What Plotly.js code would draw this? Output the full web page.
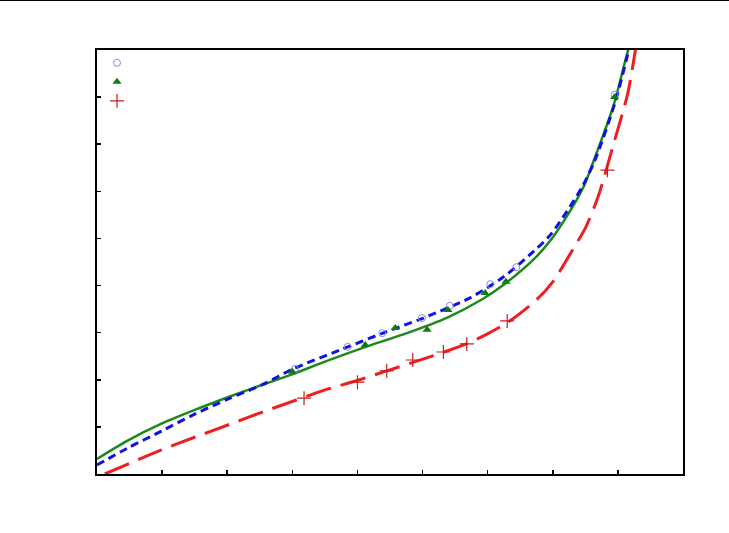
<!DOCTYPE html>
<html>
<head>
<meta charset="utf-8">
<script src="https://cdn.plot.ly/plotly-3.0.1.min.js"></script>
<style>
html,body{margin:0;padding:0;background:#fff;}
#topline{position:absolute;left:0;top:0;width:729px;height:1px;background:#000;z-index:10;}
#chart{width:729px;height:533px;}
</style>
</head>
<body>
<div id="topline"></div>
<div id="chart"></div>
<script>
// Measured points
const circleX = [3.04, 3.85, 4.38, 4.99, 5.42, 6.04, 6.44, 7.95];
const circleY = [2.23, 2.70, 2.99, 3.31, 3.57, 4.03, 4.39, 8.05];
const triX = [3.0, 4.12, 4.58, 5.07, 5.39, 5.96, 6.28, 7.95];
const triY = [2.17, 2.74, 3.10, 3.06, 3.48, 3.84, 4.08, 8.0];
const crossX = [3.18, 4.0, 4.45, 4.85, 5.32, 5.68, 6.3, 7.84];
const crossY = [1.61, 1.95, 2.19, 2.42, 2.59, 2.76, 3.25, 6.45];

// Fitted curves
const greenX = [0, 0.47, 0.99, 1.5, 2.01, 2.53, 3.01, 3.47, 4.15, 4.76, 5.38, 5.93, 6.24, 6.71, 6.96, 7.22, 7.47, 7.68, 7.93, 8.15, 8.3];
const greenY = [0.32, 0.71, 1.07, 1.36, 1.63, 1.89, 2.12, 2.37, 2.71, 2.99, 3.32, 3.72, 4.01, 4.56, 4.95, 5.48, 6.09, 6.84, 7.81, 8.96, 9.64];
const blueX = [0, 0.47, 0.99, 1.5, 2.01, 2.53, 3.01, 3.73, 4.39, 5.01, 5.73, 6.24, 6.71, 6.96, 7.22, 7.45, 7.65, 7.96, 8.15, 8.27];
const blueY = [0.19, 0.55, 0.91, 1.27, 1.59, 1.89, 2.23, 2.63, 2.99, 3.31, 3.74, 4.18, 4.73, 5.07, 5.58, 6.09, 6.67, 7.90, 8.90, 9.53];
const redX = [0.12, 0.99, 1.5, 2.01, 2.53, 3.04, 3.47, 4.01, 4.45, 5.12, 5.67, 5.99, 6.32, 6.76, 7.0, 7.34, 7.5, 7.7, 7.93, 8.15, 8.27, 8.35];
const redY = [0.0, 0.51, 0.78, 1.04, 1.31, 1.56, 1.77, 1.99, 2.19, 2.49, 2.76, 2.97, 3.23, 3.71, 4.08, 4.84, 5.22, 5.90, 6.99, 8.07, 9.0, 9.6];

const traces = [
  {x: greenX, y: greenY, mode: 'lines', line: {color: '#1a8a1a', width: 2.5, shape: 'spline', smoothing: 0.8}, showlegend: false, hoverinfo: 'skip'},
  {x: blueX, y: blueY, mode: 'lines', line: {color: '#1010e8', width: 3, dash: '8px,5px', shape: 'spline', smoothing: 0.8}, showlegend: false, hoverinfo: 'skip'},
  {x: redX, y: redY, mode: 'lines', line: {color: '#f01e1e', width: 3, dash: '26px,10px', shape: 'spline', smoothing: 0.8}, showlegend: false, hoverinfo: 'skip'},
  {x: circleX, y: circleY, mode: 'markers', name: ' ', marker: {symbol: 'circle-open', size: 7, color: '#8a8ae8', line: {width: 1}}},
  {x: triX, y: triY, mode: 'markers', name: ' ', marker: {symbol: 'triangle-up', size: 8, color: '#137a13'}},
  {x: crossX, y: crossY, mode: 'markers', name: ' ', marker: {symbol: 'cross-thin-open', size: 10, color: '#c81e1e', line: {width: 1.2, color: '#c81e1e'}}}
];

const axisCommon = {
  showgrid: false, zeroline: false, showline: true, linecolor: '#000', linewidth: 2,
  mirror: true, ticks: 'inside', ticklen: 4, tickwidth: 1.5, tickcolor: '#000',
  showticklabels: false, dtick: 1, tick0: 0
};

const layout = {
  width: 729, height: 533,
  margin: {l: 97, r: 46, t: 50, b: 59},
  paper_bgcolor: '#fff', plot_bgcolor: '#fff',
  xaxis: Object.assign({range: [0, 9]}, axisCommon),
  yaxis: Object.assign({range: [0, 9]}, axisCommon),
  legend: {x: 0.0, y: 1.004, xanchor: 'left', yanchor: 'top', bgcolor: 'rgba(0,0,0,0)', font: {size: 11.5}, tracegroupgap: 0},
  showlegend: true
};

Plotly.newPlot('chart', traces, layout, {displayModeBar: false, staticPlot: true});
</script>
</body>
</html>
